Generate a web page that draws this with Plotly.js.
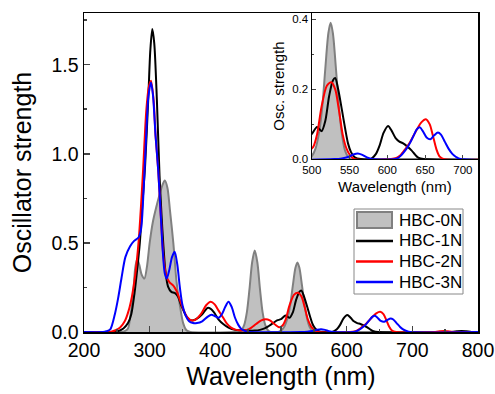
<!DOCTYPE html>
<html>
<head>
<meta charset="utf-8">
<script src="https://cdn.plot.ly/plotly-3.0.1.min.js"></script>
<style>html,body{margin:0;padding:0;background:#fff}#chart{width:495px;height:394px}</style>
</head>
<body>
<div id="chart"></div>
<script>
// Series names
const seriesNames = ["HBC-0N", "HBC-1N", "HBC-2N", "HBC-3N"];

// HBC-0N (filled gray)
const wl0 = [200,255,262,267,271,275,278,281,284,288,292,296,300,305,310,315,319,323,327,331,336,341,346,351,356,362,
  430,436,440,444,448,452,456,460,464,468,472,476,480,484,490,
  496,500,505,510,514,518,522,525,528,532,536,540,544,548,552,560,800];
const f0 = [0,0,0.005,0.02,0.1,0.22,0.36,0.41,0.38,0.32,0.30,0.37,0.5,0.62,0.70,0.77,0.82,0.85,0.81,0.68,0.5,0.28,0.15,0.05,0.01,0,
  0,0,0.01,0.04,0.11,0.24,0.39,0.457,0.39,0.24,0.11,0.04,0.01,0,0,
  0,0.008,0.03,0.08,0.15,0.26,0.36,0.39,0.36,0.26,0.15,0.07,0.025,0.007,0,0,0];

// HBC-1N (black)
const wl1 = [200,245,252,260,267,272,277,281,285,289,293,298,301,304,307,311,315,318,321,324,328,333,338,343,348,354,360,365,372,380,388,393,398,405,412,420,430,440,450,460,468,475,482,488,494,500,507,513,518,523,528,531,535,540,544,548,552,557,565,578,585,590,595,601,606,611,616,621,627,632,637,641,648,760,768,775,782,790,800];
const f1 = [0,0,0.005,0.02,0.05,0.1,0.22,0.35,0.5,0.72,0.93,1.32,1.58,1.70,1.62,1.3,0.88,0.66,0.48,0.34,0.255,0.225,0.22,0.2,0.15,0.1,0.07,0.065,0.075,0.1,0.135,0.13,0.11,0.07,0.045,0.025,0.012,0.01,0.008,0.008,0.012,0.02,0.035,0.05,0.065,0.072,0.092,0.08,0.11,0.18,0.225,0.232,0.2,0.14,0.09,0.045,0.02,0.005,0,0,0.015,0.04,0.075,0.095,0.08,0.06,0.05,0.045,0.035,0.025,0.012,0.004,0,0,0.004,0.006,0.004,0,0];

// HBC-2N (red)
const wl2 = [200,240,248,255,262,268,273,278,283,287,290,295,299,302,306,309,313,317,321,325,330,336,341,346,352,358,364,370,378,386,393,399,405,412,418,424,432,440,448,455,462,470,477,483,490,497,502,507,513,520,526,531,536,541,546,551,557,605,612,617,621,626,630,635,640,645,651,656,660,665,669,675,735,742,748,754,762,800];
const f2 = [0,0,0.01,0.025,0.06,0.12,0.2,0.32,0.5,0.72,0.91,1.25,1.38,1.41,1.3,1.1,0.91,0.65,0.42,0.32,0.28,0.26,0.23,0.18,0.12,0.08,0.065,0.07,0.1,0.15,0.17,0.155,0.12,0.08,0.045,0.025,0.012,0.008,0.012,0.025,0.045,0.065,0.072,0.065,0.045,0.027,0.035,0.07,0.15,0.21,0.22,0.2,0.14,0.07,0.03,0.01,0,0,0.003,0.01,0.021,0.035,0.048,0.068,0.088,0.105,0.114,0.1,0.07,0.028,0.008,0,0,0.004,0.006,0.004,0,0];

// HBC-3N (blue)
const wl3 = [200,229,234,240,247,252,257,263,270,276,283,287,290,294,298,302,305,309,313,317,320,323,326,330,334,338,342,346,350,355,360,366,372,380,388,394,399,405,410,415,420,425,430,435,440,446,452,530,540,548,555,561,567,573,580,610,614,618,622,627,631,635,639,643,647,652,657,662,667,671,676,681,686,691,697,800];
const f3 = [0,0,0.004,0.015,0.1,0.19,0.3,0.42,0.48,0.51,0.53,0.58,0.74,1.05,1.32,1.40,1.33,1.1,0.91,0.65,0.45,0.33,0.30,0.35,0.42,0.45,0.38,0.25,0.15,0.09,0.06,0.05,0.05,0.06,0.085,0.097,0.09,0.08,0.1,0.14,0.17,0.14,0.08,0.04,0.015,0.005,0,0,0.002,0.006,0.013,0.016,0.012,0.005,0,0,0.003,0.01,0.02,0.035,0.05,0.068,0.085,0.091,0.08,0.062,0.057,0.068,0.076,0.07,0.05,0.03,0.015,0.006,0,0];

const xs = [wl0, wl1, wl2, wl3];
const ys = [f0, f1, f2, f3];
const colors = ["#808080", "#000000", "#ff0000", "#0000ff"];

const traces = [];
for (let i = 0; i < 4; i++) {
  const t = {
    x: xs[i], y: ys[i], type: "scatter", mode: "lines", name: seriesNames[i], showlegend: false,
    line: {color: colors[i], width: 2, shape: "spline", smoothing: 0.8},
    xaxis: "x", yaxis: "y"
  };
  if (i === 0) { t.fill = "tozeroy"; t.fillcolor = "#c0c0c0"; }
  traces.push(t);
}
for (let i = 0; i < 4; i++) {
  const t = {
    x: xs[i], y: ys[i], type: "scatter", mode: "lines", name: seriesNames[i], showlegend: false,
    line: {color: colors[i], width: 2, shape: "spline", smoothing: 0.8},
    xaxis: "x2", yaxis: "y2"
  };
  if (i === 0) { t.fill = "tozeroy"; t.fillcolor = "#c0c0c0"; }
  traces.push(t);
}

// Legend (drawn as a key box in paper coordinates)
const W = 495, H = 394, ML = 84, MR = 17, MT = 13, MB = 62;
const PW = W - ML - MR, PH = H - MT - MB;
const px = v => (v - ML) / PW;
const py = v => (H - MB - v) / PH;
const shapes = [
  {type: "rect", xref: "paper", yref: "paper", x0: px(354), x1: px(463), y0: py(294), y1: py(209),
   line: {color: "#888", width: 1}, fillcolor: "rgba(0,0,0,0)"},
  {type: "rect", xref: "paper", yref: "paper", x0: px(357), x1: px(392), y0: py(228), y1: py(212),
   line: {color: "#808080", width: 2}, fillcolor: "#c0c0c0"}
];
const rowY = [220.5, 241, 261.5, 282];
for (let i = 1; i < 4; i++) {
  shapes.push({type: "line", xref: "paper", yref: "paper", x0: px(356), x1: px(393), y0: py(rowY[i]), y1: py(rowY[i]),
    line: {color: colors[i], width: 2.5}});
}
const annotations = seriesNames.map((n, i) => ({
  text: n, xref: "paper", yref: "paper", x: px(397), y: py(rowY[i]), xanchor: "left", yanchor: "middle",
  showarrow: false, font: {size: 17, color: "#000"}
}));

const font = "Liberation Sans, Arial, sans-serif";
const layout = {
  width: W, height: H,
  margin: {l: ML, r: MR, t: MT, b: MB},
  paper_bgcolor: "#fff", plot_bgcolor: "#fff",
  font: {family: font, color: "#000"},
  showlegend: false,
  shapes: shapes,
  annotations: annotations,
  xaxis: {
    domain: [0, 1], range: [200, 800], dtick: 100, tick0: 200,
    ticks: "inside", ticklen: 6, tickwidth: 1.5, showline: true, linewidth: 1.5, linecolor: "#000", mirror: true,
    showgrid: false, zeroline: false,
    minor: {dtick: 50, ticks: "inside", ticklen: 3, showgrid: false},
    tickfont: {size: 19.5}, automargin: false,
    title: {text: "Wavelength (nm)", font: {size: 25}, standoff: 7}
  },
  yaxis: {
    domain: [0, 1], range: [0, 1.79], dtick: 0.5, tick0: 0, tickformat: ".1f",
    ticks: "inside", ticklen: 6, tickwidth: 1.5, showline: true, linewidth: 1.5, linecolor: "#000", mirror: true,
    showgrid: false, zeroline: false,
    minor: {dtick: 0.25, ticks: "inside", ticklen: 3, showgrid: false},
    tickfont: {size: 19.5}, automargin: false,
    title: {text: "Oscillator strength", font: {size: 25}, standoff: 12}
  },
  xaxis2: {
    domain: [0.578, 1], anchor: "y2", range: [500, 720], dtick: 50, tick0: 500,
    ticks: "inside", ticklen: 4, showline: true, linewidth: 1.2, linecolor: "#000", mirror: true,
    showgrid: false, zeroline: false, tickfont: {size: 11.5}, automargin: false,
    title: {text: "Wavelength (nm)", font: {size: 15}, standoff: 6}
  },
  yaxis2: {
    domain: [0.542, 1], anchor: "x2", range: [0, 0.418], dtick: 0.2, tick0: 0, tickformat: ".1f",
    ticks: "inside", ticklen: 4, showline: true, linewidth: 1.2, linecolor: "#000", mirror: true,
    showgrid: false, zeroline: false, tickfont: {size: 11.5}, automargin: false,
    minor: {dtick: 0.1, ticks: "inside", ticklen: 2, showgrid: false},
    title: {text: "Osc. strength", font: {size: 15}, standoff: 4}
  }
};

Plotly.newPlot("chart", traces, layout, {staticPlot: true, displayModeBar: false});
</script>
</body>
</html>
